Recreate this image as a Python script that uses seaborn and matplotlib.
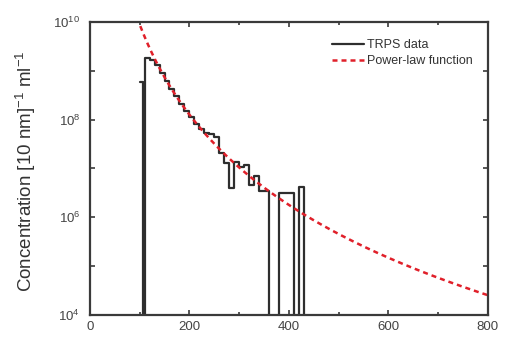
import numpy as np
import pandas as pd
import matplotlib
matplotlib.use("Agg")
import matplotlib.pyplot as plt
import matplotlib.ticker as mticker
import seaborn as sns

# ---- data ----
bin_edges = [100, 107, 110, 120, 130, 140, 150, 160, 170, 180, 190, 200, 210,
             220, 230, 240, 250, 260, 270, 280, 290, 300, 310, 320, 330, 340,
             350, 360, 370, 380, 390, 400, 410, 420, 430]
trps_counts = [5.9e8, 0, 1.8e9, 1.65e9, 1.3e9, 9.1e8, 6.3e8, 4.3e8, 3.0e8,
               2.1e8, 1.5e8, 1.12e8, 8.1e7, 6.3e7, 5.2e7, 5.0e7, 4.4e7, 2.1e7,
               1.3e7, 4.0e6, 1.35e7, 1.05e7, 1.2e7, 4.6e6, 7.1e6, 3.4e6, 3.4e6,
               0, 0, 3.2e6, 3.2e6, 3.2e6, 0, 4.2e6]
powerlaw_A = 10 ** 22.23
powerlaw_k = 6.14
powerlaw_x = np.linspace(95, 800, 400)

x_ticks = [0, 200, 400, 600, 800]
y_tick_labels = [r"$10^4$", r"$10^6$", r"$10^8$", r"$10^{10}$"]

# ---- build plotting frames ----
floor = 1e2
step_y = [c if c > 0 else floor for c in trps_counts] + [floor]
step_x = list(bin_edges)
df_hist = pd.DataFrame({"x": step_x, "y": step_y})
df_pl = pd.DataFrame({"x": powerlaw_x, "y": powerlaw_A * powerlaw_x ** (-powerlaw_k)})

sns.set_theme(style="ticks")
plt.rcParams["font.family"] = ["Liberation Sans", "DejaVu Sans"]
plt.rcParams["mathtext.fontset"] = "custom"
plt.rcParams["mathtext.rm"] = "Liberation Sans"
plt.rcParams["mathtext.it"] = "Liberation Sans"

fig = plt.figure(figsize=(5.05, 3.42), dpi=100)
ax = fig.add_axes([0.178, 0.079, 0.788, 0.857])

frame_col = "#3a3a3a"
sns.lineplot(data=df_hist, x="x", y="y", ax=ax, drawstyle="steps-post",
             color="#2e2e2e", linewidth=1.6, label="TRPS data", estimator=None,
             sort=False)
sns.lineplot(data=df_pl, x="x", y="y", ax=ax, color="#e0202a", linewidth=1.8,
             linestyle=(0, (2, 1.6)), label="Power-law function", estimator=None)

ax.set_yscale("log")
ax.set_xlim(0, 800)
ax.set_ylim(1e4, 1e10)

ax.set_xticks(x_ticks)
ax.set_xticklabels([str(t) for t in x_ticks])
ax.xaxis.set_minor_locator(mticker.MultipleLocator(100))
ax.set_yticks([10.0 ** p for p in range(4, 11)])
ax.set_yticklabels([y_tick_labels[(p - 4) // 2] if p % 2 == 0 else "" for p in range(4, 11)])
ax.yaxis.set_minor_locator(mticker.NullLocator())

ax.tick_params(which="both", direction="in", top=True, right=True,
               color=frame_col, width=1.2, labelsize=9.5, labelcolor="#444444")
ax.tick_params(which="major", length=3.5)
ax.tick_params(which="minor", length=2.5)
ax.tick_params(axis="y", pad=7)
ax.tick_params(axis="x", pad=4)
for s in ax.spines.values():
    s.set_color(frame_col)
    s.set_linewidth(1.6)

ax.set_xlabel("")
ax.set_ylabel(r"Concentration [10 nm]$^{-1}$ ml$^{-1}$", fontsize=13.5,
              color="#333333")
ax.yaxis.set_label_coords(-0.13, 0.49)

leg = ax.legend(loc="upper right", frameon=False, fontsize=9,
                handlelength=2.6, handletextpad=0.2, borderaxespad=0.5,
                labelspacing=0.35, bbox_to_anchor=(0.99, 0.98))
for t in leg.get_texts():
    t.set_color("#333333")

fig.savefig("out.png", dpi=100)
